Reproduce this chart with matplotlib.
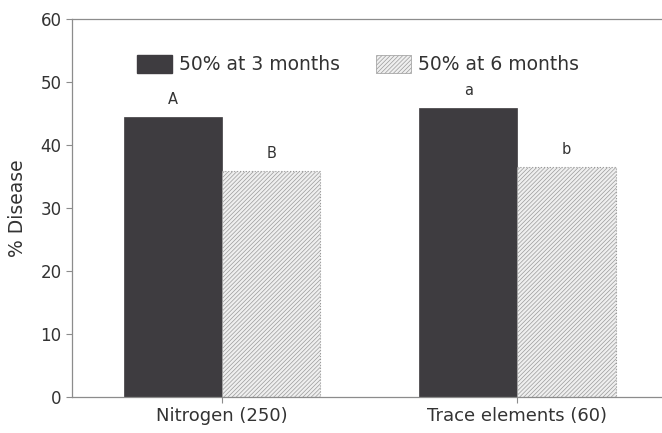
import matplotlib
matplotlib.use("Agg")
import matplotlib.pyplot as plt
from matplotlib.patches import Patch
import numpy as np

# ── Data ─────────────────────────────────────────────────────────────────────
categories = ["Nitrogen (250)", "Trace elements (60)"]
series_names = ["50% at 3 months", "50% at 6 months"]
disease_3m = [44.4, 45.9]
disease_6m = [35.9, 36.5]
letters_3m = ["A", "a"]
letters_6m = ["B", "b"]

DARK = "#3e3c40"
LIGHT = "#efefef"
HATCH_EDGE = "#9a9a9a"
TEXT = "#333333"
SPINE = "#8c8c8c"

plt.rcParams["hatch.linewidth"] = 0.5
plt.rcParams["font.family"] = ["DejaVu Sans"]

fig = plt.figure(figsize=(6.62, 4.33), dpi=100)
ax = fig.add_axes([0.109, 0.083, 0.891, 0.873])

x = np.arange(len(categories))
w = 0.333
ax.bar(x - w / 2, disease_3m, width=w, color=DARK, edgecolor=DARK, linewidth=0.5)
ax.bar(x + w / 2, disease_6m, width=w, color=LIGHT, edgecolor=HATCH_EDGE,
       hatch="////////", linewidth=0.8, linestyle=":")

for xi, v, t in zip(x - w / 2, disease_3m, letters_3m):
    ax.text(xi, v + 1.6, t, ha="center", va="bottom", fontsize=10.5, color=TEXT)
for xi, v, t in zip(x + w / 2, disease_6m, letters_6m):
    ax.text(xi, v + 1.6, t, ha="center", va="bottom", fontsize=10.5, color=TEXT)

ax.set_xlim(-0.508, 1.49)
ax.set_ylim(0, 60)
ax.set_yticks(range(0, 61, 10))
ax.set_xticks(x)
ax.set_xticklabels(categories)
ax.tick_params(axis="both", colors=SPINE, labelcolor=TEXT, labelsize=13,
               length=4, width=0.8, direction="out")
ax.tick_params(axis="y", labelsize=12)
ax.set_ylabel("% Disease", fontsize=13.5, color=TEXT, labelpad=10)

for s in ["left", "bottom", "top"]:
    ax.spines[s].set_color(SPINE)
    ax.spines[s].set_linewidth(0.9)
ax.spines["right"].set_visible(False)

handles = [Patch(facecolor=DARK, edgecolor=DARK),
           Patch(facecolor=LIGHT, edgecolor=HATCH_EDGE, hatch="////////", linewidth=0.5)]
leg = ax.legend(handles, series_names, ncol=2, frameon=False, fontsize=13.5,
                loc="center left", bbox_to_anchor=(0.11, 0.88),
                borderaxespad=0, borderpad=0,
                handlelength=1.85, handleheight=1.1, handletextpad=0.4,
                columnspacing=1.9)
for t in leg.get_texts():
    t.set_color(TEXT)

fig.savefig("out.png", dpi=100)
